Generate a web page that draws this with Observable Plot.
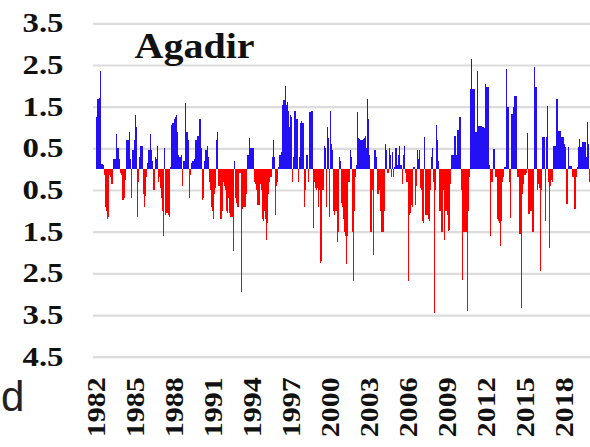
<!DOCTYPE html>
<html>
<head>
<meta charset="utf-8">
<script src="https://cdn.jsdelivr.net/npm/d3@7"></script>
<script src="https://cdn.jsdelivr.net/npm/@observablehq/plot@0.6"></script>
<style>
  html, body { margin: 0; padding: 0; background: #fff; }
  #wrap { position: relative; width: 590px; height: 447px; overflow: hidden; }
  #panel { position: absolute; left: 1px; top: 376px; font: 42px "Liberation Sans", Arial, sans-serif; color: #222; line-height: 1; }
</style>
</head>
<body>
<div id="wrap"><div id="chart"></div><div id="panel">d</div></div>
<script>
const station = "Agadir";
const startYear = 1982;
const yearLabels = [1982, 1985, 1988, 1991, 1994, 1997, 2000, 2003, 2006, 2009, 2012, 2015, 2018];
const yTicks = [3.5, 2.5, 1.5, 0.5, -0.5, -1.5, -2.5, -3.5, -4.5];

// monthly anomalies, Jan 1982 onward
const v1982_1989 = [
  1.24,1.68,1.68,1.7,2.36,0.12,0.1,-0.15,-0.9,-1.0,-1.2,-1.15,
  -0.15,-0.2,-0.35,-0.35,0.25,0.25,0.85,0.5,0.5,0.25,-0.1,-0.15,
  -0.75,-0.75,-0.7,-0.25,0.7,0.7,0.9,0.25,-0.7,0.45,0.45,0.7,
  1.3,1.0,-1.15,-0.3,0.3,0.55,0.55,-0.6,-0.9,-0.65,-0.2,0.15,
  0.45,0.45,0.85,0.45,0.2,-0.5,0.3,0.25,0.55,-0.3,-0.2,-0.45,
  -0.7,-1.0,-1.6,0.5,-1.1,-1.05,-1.1,-1.15,0.05,1.05,1.1,1.1,
  1.2,1.25,1.3,0.9,0.35,0.3,0.35,-0.4,0.2,0.2,1.58,0.9,
  0.9,0.7,-0.7,-0.15,0.15,0.2,0.25,0.7,0.7,0.8,0.8,1.2
];
const v1990_1999 = [
  1.2,0.5,-0.75,-0.7,0.2,0.45,0.55,0.3,-0.3,-0.5,-0.9,-1.0,
  -1.2,-0.6,-0.45,0.7,0.9,-0.4,-1.2,-1.2,-1.0,-0.3,-0.4,-0.5,
  -1.0,-1.05,-0.7,-1.05,-1.15,-1.15,-1.97,0.2,-0.7,-0.8,-0.9,-0.9,
  -0.1,-0.1,-2.95,-0.95,-0.9,-0.9,-0.6,0.35,0.35,0.75,0.5,0.5,
  0.5,0.5,-0.3,-0.35,-0.5,-0.85,-0.85,-0.35,-0.5,-1.2,-1.25,-1.0,
  -1.2,-1.7,-1.3,-0.6,-0.3,-0.2,0.3,0.7,0.3,-1.1,-0.4,-0.3,
  0.05,0.35,0.35,0.4,1.55,1.65,2.0,1.55,1.6,1.4,1.0,1.3,
  1.25,-0.3,0.3,1.4,1.4,1.2,-0.3,0.3,1.1,1.15,1.1,1.1,
  -0.9,-0.5,0.35,0.35,-0.3,1.36,1.4,1.4,-1.4,-0.3,-0.45,-0.5,
  -0.45,-0.9,-0.5,-2.25,-2.2,-0.5,0.55,0.5,-0.9,1.0,0.75,-1.15
];
const v2000_2009 = [
  1.4,0.6,0.45,-1.0,-1.1,-1.0,-1.75,-1.5,0.3,0.2,-0.8,-0.9,
  -1.2,-1.5,-1.6,-2.27,-1.6,-0.3,0.45,0.3,-1.5,-2.68,-1.0,-0.2,
  0.1,1.38,0.75,0.72,0.7,0.7,0.72,0.75,0.8,0.5,1.68,1.2,
  0.35,-1.5,-1.5,-0.5,-2.05,0.45,0.3,-0.6,-0.6,-0.5,-1.0,-1.5,
  -1.5,-1.5,-1.0,0.6,0.45,-0.1,0.5,0.35,-0.2,0.4,-0.2,0.05,
  0.5,0.5,0.1,0.35,0.55,0.1,-0.35,0.35,0.55,-0.1,-0.3,-0.3,
  -2.68,-1.1,-1.05,-0.85,-0.9,0.05,-0.85,-0.4,0.45,0.25,0.45,-0.45,
  -0.5,-1.25,-1.3,0.76,-1.1,-1.1,-1.2,-1.25,-0.5,0.3,0.5,-0.3,
  -3.45,-0.5,1.05,0.7,0.2,-1.0,-1.5,-1.5,-0.5,-1.7,-1.0,-1.0,
  -1.1,-1.48,-1.45,-0.35,0.35,0.35,0.8,0.8,0.35,0.95,0.95,1.24
];
const v2010_2019 = [
  1.24,-0.5,-2.66,-1.5,-1.5,-1.5,-3.4,-1.0,-0.2,1.92,2.64,1.92,
  1.92,1.92,0.88,0.88,2.36,1.04,1.04,1.04,1.0,1.0,0.98,2.04,
  1.96,1.96,1.96,0.1,-1.6,-0.3,0.48,0.48,-0.2,-0.2,-1.2,-1.24,
  -1.3,-1.84,-1.24,-0.3,-0.2,0.05,2.4,1.48,1.48,-0.3,-1.16,1.32,
  1.32,1.5,1.76,1.76,1.76,-0.2,-1.56,-1.56,-3.32,-0.6,-0.35,-0.15,
  -0.15,-0.1,0.86,-1.08,-1.08,-1.0,-1.5,-1.5,2.46,1.96,1.96,-0.5,
  -0.35,-0.45,-2.44,-0.5,0.76,0.76,-1.24,0.76,1.52,-0.3,-1.88,-0.4,
  -0.25,-0.3,0.56,0.56,0.56,1.68,0.92,0.92,0.92,0.76,0.76,0.76,
  0.6,0.52,-0.84,-0.84,0.52,0.08,0.08,-0.2,-0.2,-0.96,-0.96,-0.2,
  0.05,0.52,0.72,0.52,0.52,0.64,0.64,0.64,0.3,1.12,0.6,-0.3
];

const values = [...v1982_1989, ...v1990_1999, ...v2000_2009, ...v2010_2019];
const data = values.map((v, i) => ({i, v}));
const serif = "Liberation Serif, Times New Roman, serif";

const chart = Plot.plot({
  width: 590,
  height: 447,
  marginLeft: 93,
  marginRight: 0,
  marginTop: 23.3,
  marginBottom: 90.3,
  style: {fontFamily: serif, color: "#000", background: "#fff", overflow: "visible"},
  x: {domain: [-2.8, values.length], axis: null},
  y: {domain: [-4.5, 3.5], axis: null},
  marks: [
    Plot.ruleY(yTicks, {stroke: "#dcdcdc", strokeWidth: 2.2}),
    Plot.rectY(data, {
      x1: "i",
      x2: d => d.i + 1,
      y1: 0,
      y2: "v",
      inset: 0,
      fill: d => d.v >= 0 ? "#2410f5" : "#ff0000",
      shapeRendering: "crispEdges"
    }),
    Plot.axisY(yTicks, {
      anchor: "left",
      label: null,
      tickSize: 0,
      tickPadding: 30,
      tickFormat: d => Math.abs(d).toFixed(1),
      fontSize: 27,
      fontWeight: "bold",
      fontFamily: serif,
      fill: "#111"
    }),
    Plot.axisX(yearLabels.map(y => (y - startYear) * 12 + 0.5), {
      anchor: "bottom",
      label: null,
      tickSize: 0,
      tickPadding: 20,
      tickRotate: -90,
      tickFormat: d => String(startYear + Math.round((d - 0.5) / 12)),
      fontSize: 26,
      fontWeight: "bold",
      fontFamily: serif,
      fill: "#111"
    }),
    Plot.text([station], {
      frameAnchor: "top-left",
      dx: 101,
      dy: 34,
      textAnchor: "middle",
      lineAnchor: "bottom",
      fontSize: 36,
      fontWeight: "bold",
      fontFamily: serif,
      fill: "#111"
    })
  ]
});

document.getElementById("chart").appendChild(chart);

// widen glyphs to the reference's proportions
chart.querySelectorAll('g[aria-label="y-axis tick label"] text').forEach(t => {
  t.setAttribute("textLength", 41);
  t.setAttribute("lengthAdjust", "spacingAndGlyphs");
});
chart.querySelectorAll('g[aria-label="x-axis tick label"] text').forEach(t => {
  t.setAttribute("textLength", 60);
  t.setAttribute("lengthAdjust", "spacingAndGlyphs");
});
chart.querySelectorAll('text').forEach(t => {
  if (t.textContent === station) {
    t.setAttribute("textLength", 120);
    t.setAttribute("lengthAdjust", "spacingAndGlyphs");
  }
});
</script>
</body>
</html>
